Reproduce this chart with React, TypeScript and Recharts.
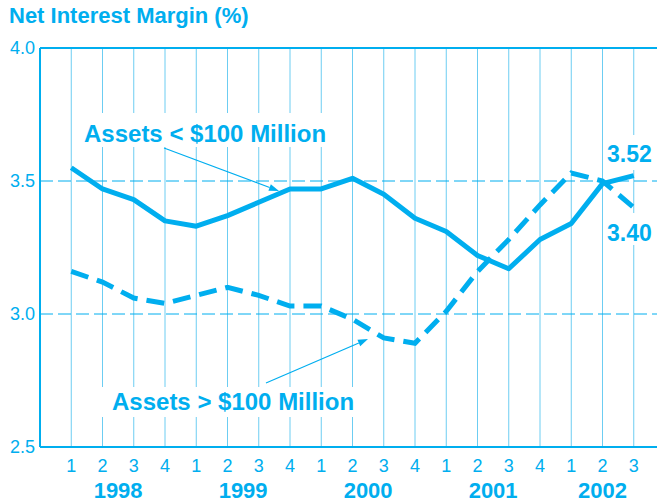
import { LineChart, Line, XAxis, YAxis, CartesianGrid, ReferenceLine } from 'recharts'

const quarterLabels = ['1','2','3','4','1','2','3','4','1','2','3','4','1','2','3','4','1','2','3']
const yearLabels = ['1998','1999','2000','2001','2002']
const smallBanks = [3.55,3.47,3.43,3.35,3.33,3.37,3.42,3.47,3.47,3.51,3.45,3.36,3.31,3.22,3.17,3.28,3.34,3.49,3.52]
const largeBanks = [3.16,3.12,3.06,3.04,3.07,3.10,3.07,3.03,3.03,2.98,2.91,2.89,3.01,3.16,3.28,3.41,3.53,3.50,3.40]
const yTicks = [2.5, 3.0, 3.5, 4.0]

const data = quarterLabels.map((q, i) => ({
  x: i + 1,
  q,
  year: yearLabels[Math.floor(i / 4)],
  small: smallBanks[i],
  large: largeBanks[i],
}))
const qTicks = data.map(d => d.x)
// year label sits in the middle of that year's quarters
const yearTicks = yearLabels.map(y => {
  const xs = data.filter(d => d.year === y).map(d => d.x)
  return (xs[0] + xs[xs.length - 1]) / 2
})

const W = 657, H = 501
const C = '#00aeef'
const GRID = '#6ccdf2'
const FONT = '"Liberation Sans", Arial, Helvetica, sans-serif'

function Arrow({ x1, y1, x2, y2 }: { x1: number; y1: number; x2: number; y2: number }) {
  const a = Math.atan2(y2 - y1, x2 - x1)
  const L = 10, h = 3.5
  const bx = x2 - L * Math.cos(a), by = y2 - L * Math.sin(a)
  const p = `${x2},${y2} ${bx + h * Math.sin(a)},${by - h * Math.cos(a)} ${bx - h * Math.sin(a)},${by + h * Math.cos(a)}`
  return (
    <g>
      <line x1={x1} y1={y1} x2={bx} y2={by} stroke={C} strokeWidth={1.2} />
      <polygon points={p} fill={C} />
    </g>
  )
}

export default function App() {
  return (
    <div style={{ position: 'absolute', left: 0, top: 0, width: W, height: H, fontFamily: FONT, background: '#fff' }}>
      <LineChart width={W} height={H} data={data} margin={{ top: 48, right: -8, bottom: 0, left: 0 }} style={{ fontFamily: FONT }}>
        <CartesianGrid horizontal={false} vertical stroke={GRID} strokeWidth={1} />
        <XAxis dataKey="x" type="number" domain={[0, 20]} allowDataOverflow ticks={qTicks} interval={0}
          tickFormatter={(v: number) => quarterLabels[v - 1]} height={26} tickSize={0} tickMargin={12}
          axisLine={{ stroke: C, strokeWidth: 2 }} tickLine={false} tick={{ fill: C, fontSize: 18 }} />
        <XAxis xAxisId="yr" dataKey="x" type="number" domain={[0, 20]} allowDataOverflow ticks={yearTicks} interval={0}
          tickFormatter={(v: number) => yearLabels[yearTicks.indexOf(v)]} height={28} tickSize={0} tickMargin={9}
          axisLine={false} tickLine={false} tick={{ fill: C, fontSize: 22, fontWeight: 'bold' }} />
        <YAxis domain={[2.5, 4]} ticks={yTicks} interval={0} width={40} tickSize={0} tickMargin={5}
          tickFormatter={(v: number) => v.toFixed(1)}
          axisLine={{ stroke: C, strokeWidth: 2 }} tickLine={false} tick={{ fill: C, fontSize: 18 }} />
        <ReferenceLine y={4} stroke={C} strokeWidth={2} />
        <ReferenceLine y={3.5} stroke={C} strokeWidth={1} strokeDasharray="13 5" />
        <ReferenceLine y={3} stroke={C} strokeWidth={1} strokeDasharray="13 5" />
        <Line dataKey="small" stroke={C} strokeWidth={5} dot={false} isAnimationActive={false} strokeLinejoin="round" />
        <Line dataKey="large" stroke={C} strokeWidth={5} dot={false} isAnimationActive={false} strokeDasharray="18 9" />
      </LineChart>
      <svg width={W} height={H} style={{ position: 'absolute', left: 0, top: 0, pointerEvents: 'none', fontFamily: FONT }}>
        <text x={9} y={23} fill={C} fontSize={22} fontWeight="bold">Net Interest Margin (%)</text>
        <rect x={72} y={113} width={260} height={34} fill="#fff" />
        <text x={84} y={142} fill={C} fontSize={24} fontWeight="bold">Assets &lt; $100 Million</text>
        <Arrow x1={164} y1={148} x2={279} y2={191} />
        <rect x={102} y={387} width={256} height={30} fill="#fff" />
        <text x={112} y={410} fill={C} fontSize={24} fontWeight="bold">Assets &gt; $100 Million</text>
        <Arrow x1={266} y1={383} x2={368} y2={339} />
        <rect x={604} y={135} width={53} height={35} fill="#fff" />
        <text x={607} y={162} fill={C} fontSize={23} fontWeight="bold">3.52</text>
        <rect x={604} y={213} width={53} height={32} fill="#fff" />
        <text x={607} y={241} fill={C} fontSize={23} fontWeight="bold">3.40</text>
      </svg>
    </div>
  )
}
